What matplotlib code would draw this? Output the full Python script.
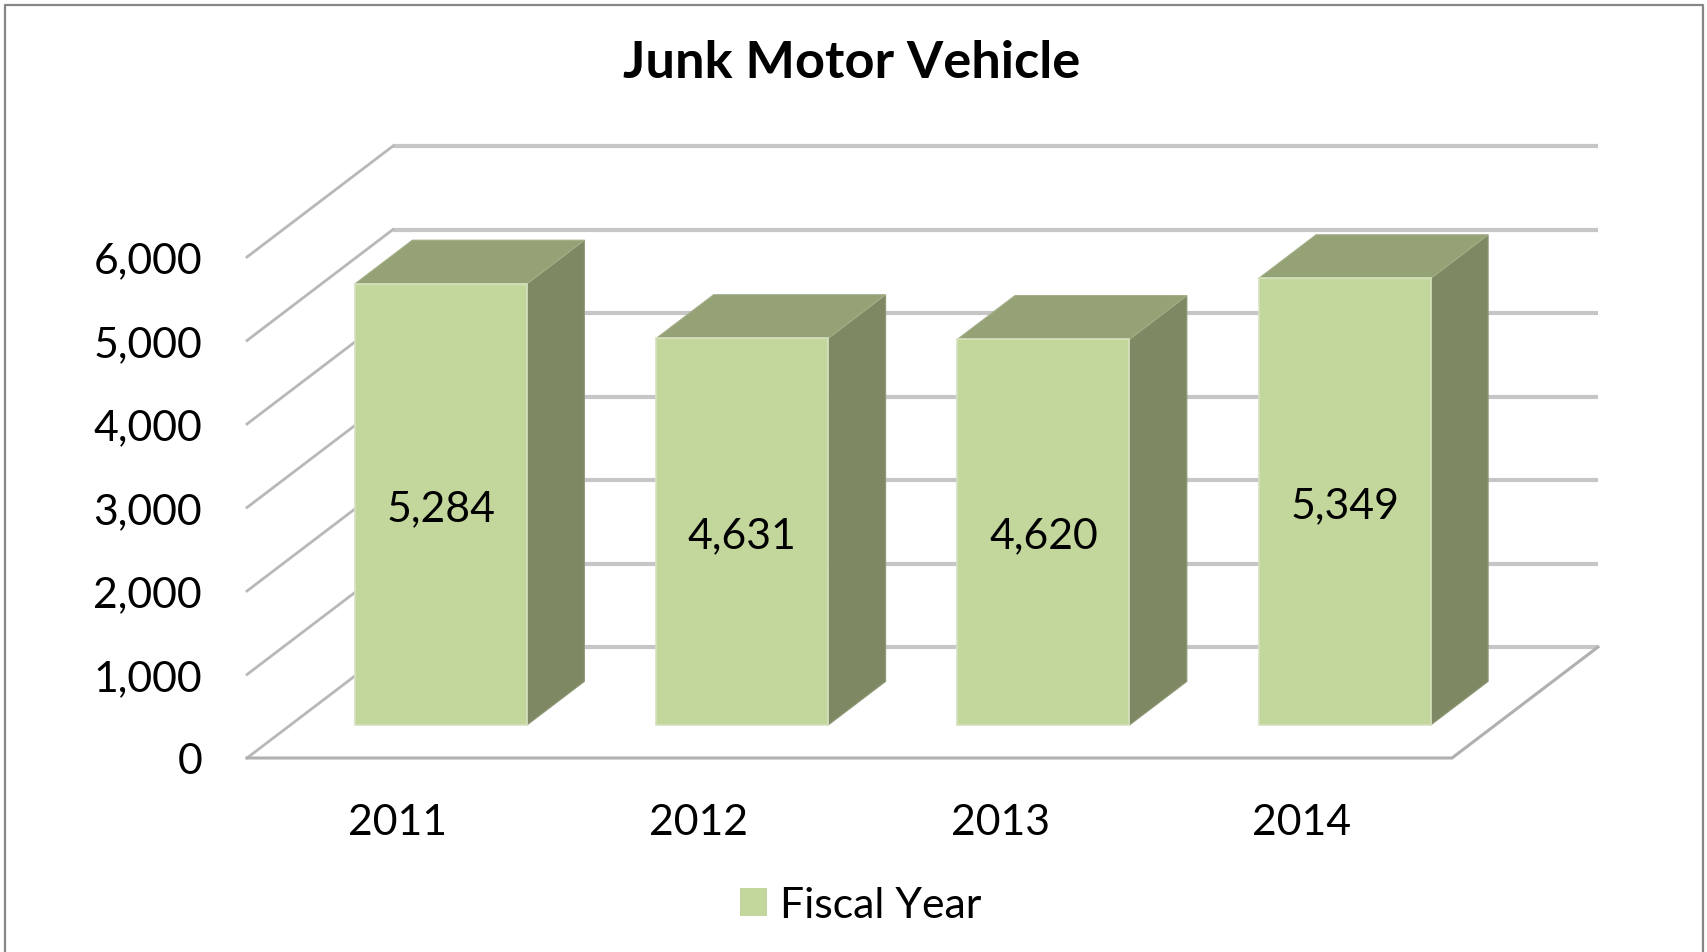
import matplotlib
matplotlib.use('Agg')
import matplotlib.pyplot as plt
from matplotlib.lines import Line2D
from matplotlib.patches import Patch, Polygon

years = ['2011', '2012', '2013', '2014']
values = [5284, 4631, 4620, 5349]
value_labels = ['5,284', '4,631', '4,620', '5,349']
yticks = [0, 1000, 2000, 3000, 4000, 5000, 6000]
ytick_labels = ['0', '1,000', '2,000', '3,000', '4,000', '5,000', '6,000']

W, H = 1707, 953
# plot box in pixels
PX_X0, PX_Y0 = 247, 759
PX_CAT = 301.25
PX_VAL = 0.0835
# how far the back wall sits from the front plane, in data units
DX = 146 / PX_CAT
DY = 111 / PX_VAL
FS = 30.8

plt.rcParams['font.family'] = ['Lato', 'DejaVu Sans']
fig = plt.figure(figsize=(W / 100, H / 100), dpi=100, facecolor='white')
ax = fig.add_axes([0, 0, 1, 1])
ax.set_xlim(-PX_X0 / PX_CAT, (W - PX_X0) / PX_CAT)
ax.set_ylim((PX_Y0 - H) / PX_VAL, PX_Y0 / PX_VAL)
ax.axis('off')

def proj(x, v, d):
    return x + d * DX, v + d * DY

n = len(years)
for t, lab in zip(yticks, ytick_labels):
    a, b, c = proj(0, t, 0), proj(0, t, 1), proj(n, t, 1)
    ax.plot([b[0], c[0]], [b[1], c[1]], color='#c6c6c6', lw=3, zorder=1, solid_capstyle='butt')
    ax.plot([a[0], b[0]], [a[1], b[1]], color='#b8b8b8', lw=2, zorder=1.1)
    ax.text(-45 / PX_CAT, t, lab, ha='right', va='center_baseline', fontsize=FS, color='black')
fl, fr, br = proj(0, 0, 0), proj(n, 0, 0), proj(n, 0, 1)
ax.plot([fl[0], fr[0], br[0]], [fl[1], fr[1], br[1]], color='#b0b0b0', lw=2.2, zorder=1.2, solid_joinstyle='miter')

bar_w = 0.571
d0, d1 = 0.297, 0.69
for i, v in enumerate(values):
    x0 = i + 0.5 - bar_w / 2
    x1 = i + 0.5 + bar_w / 2
    front = [proj(x0, 0, d0), proj(x1, 0, d0), proj(x1, v, d0), proj(x0, v, d0)]
    side = [proj(x1, 0, d0), proj(x1, 0, d1), proj(x1, v, d1), proj(x1, v, d0)]
    top = [proj(x0, v, d0), proj(x1, v, d0), proj(x1, v, d1), proj(x0, v, d1)]
    ax.add_patch(Polygon(side, facecolor='#7e8964', edgecolor='#8f9a78', lw=0.8, zorder=3))
    ax.add_patch(Polygon(top, facecolor='#95a275', edgecolor='#a3ae87', lw=0.8, zorder=3))
    ax.add_patch(Polygon(front, facecolor='#c3d69b', edgecolor='#d6e1bf', lw=1.2, zorder=4))
    cx, cy = proj(i + 0.5, v / 2, d0)
    ax.text(cx, cy, value_labels[i], ha='center', va='center_baseline', fontsize=FS, color='black', zorder=5)
    ax.text(i + 0.5, -730, years[i], ha='center', va='center_baseline', fontsize=FS, color='black')

fig.text(852 / W, 1 - 64 / H, 'Junk Motor Vehicle', ha='center', va='center', fontsize=37.7, fontweight='bold', color='black')

ax.legend(handles=[Patch(facecolor='#c3d69b', edgecolor='none', label='Fiscal Year')], loc='center',
          bbox_to_anchor=(861 / W, 1 - 906 / H), frameon=False, fontsize=FS,
          handlelength=0.62, handleheight=0.62, handletextpad=0.32)

# chart frame, bottom edge is cropped off in the original
fig.add_artist(Line2D([5 / W, 5 / W, 1703 / W, 1703 / W], [0, 1 - 6 / H, 1 - 6 / H, 0], color='#868686', lw=1.6))

fig.savefig('out.png', dpi=100)
